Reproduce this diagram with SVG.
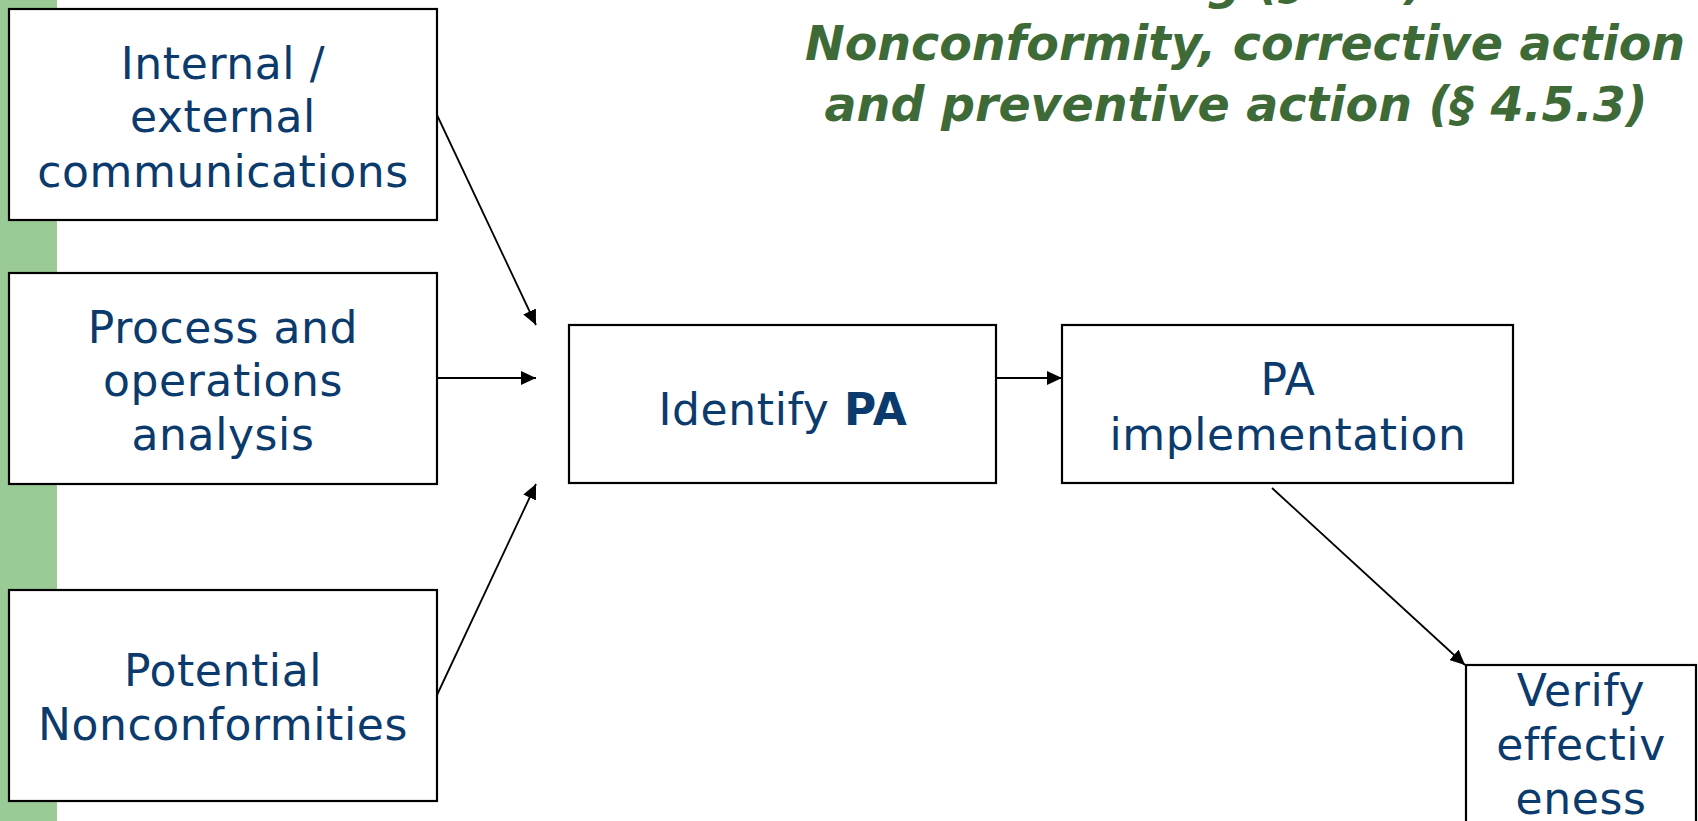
<svg xmlns="http://www.w3.org/2000/svg" width="1698" height="821" viewBox="0 0 1698 821">
<style>
.box{fill:#ffffff;stroke:#000000;stroke-width:2.2}
.t{font-family:"DejaVu Sans","Verdana",sans-serif;font-size:44px;letter-spacing:0.6px;fill:#0B3A6C;text-anchor:middle}
.title{font-family:"DejaVu Sans","Verdana",sans-serif;font-size:47.5px;font-weight:bold;font-style:italic;fill:#3E6A38;text-anchor:middle}
.c{stroke:#000000;stroke-width:1.8;fill:none;marker-end:url(#ah)}
</style>
<defs>
<marker id="ah" viewBox="0 0 15 14" refX="15" refY="7" markerWidth="15" markerHeight="14" markerUnits="userSpaceOnUse" orient="auto">
<path d="M0,0 L15,7 L0,14 z" fill="#000000"/>
</marker>
</defs>
<rect x="0" y="0" width="1698" height="821" fill="#ffffff"/>
<rect id="sidebar" x="0" y="0" width="57" height="821" fill="#9ACB97"/>
<g id="title">
<text class="title" x="1426" y="-1" style="text-anchor:end">Checking (§ 4.5)</text>
<text class="title" x="1245" y="60">Nonconformity, corrective action</text>
<text class="title" x="1236" y="121">and preventive action (§ 4.5.3)</text>
</g>
<g id="connectors">
<line class="c" x1="437" y1="115" x2="536" y2="325"/>
<line class="c" x1="437" y1="378" x2="536" y2="378"/>
<line class="c" x1="437" y1="695" x2="536" y2="484"/>
<line class="c" x1="996" y1="378" x2="1062" y2="378"/>
<line class="c" x1="1272" y1="488" x2="1465" y2="665"/>
</g>
<g id="node-communications">
<rect class="box" x="9" y="9" width="428" height="211"/>
<text class="t" x="223" y="79">Internal /</text>
<text class="t" x="223" y="132">external</text>
<text class="t" x="223" y="187">communications</text>
</g>
<g id="node-process">
<rect class="box" x="9" y="273" width="428" height="211"/>
<text class="t" x="223" y="343">Process and</text>
<text class="t" x="223" y="396">operations</text>
<text class="t" x="223" y="450">analysis</text>
</g>
<g id="node-potential">
<rect class="box" x="9" y="590" width="428" height="211"/>
<text class="t" x="223" y="686">Potential</text>
<text class="t" x="223" y="740">Nonconformities</text>
</g>
<g id="node-identify">
<rect class="box" x="569" y="325" width="427" height="158"/>
<text class="t" x="783" y="425">Identify <tspan font-weight="bold">PA</tspan></text>
</g>
<g id="node-implementation">
<rect class="box" x="1062" y="325" width="451" height="158"/>
<text class="t" x="1288" y="395">PA</text>
<text class="t" x="1288" y="450">implementation</text>
</g>
<g id="node-verify">
<rect class="box" x="1466" y="665" width="230" height="170"/>
<text class="t" x="1581" y="706">Verify</text>
<text class="t" x="1581" y="760">effectiv</text>
<text class="t" x="1581" y="814">eness</text>
</g>
</svg>
